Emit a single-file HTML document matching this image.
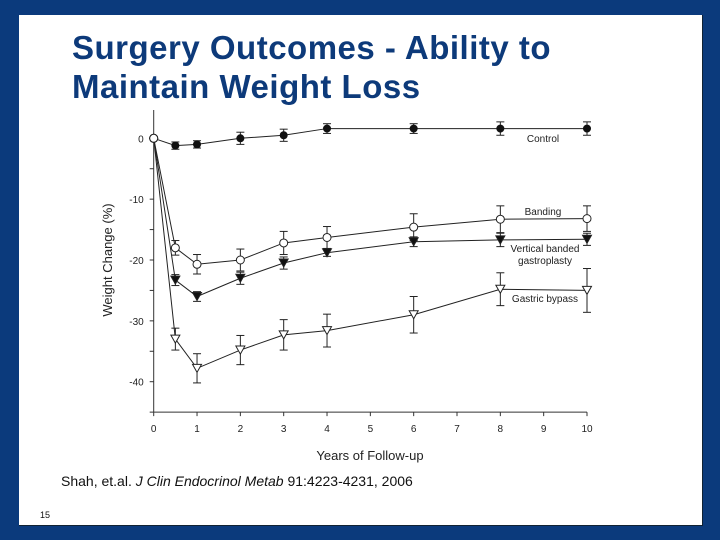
<!DOCTYPE html>
<html><head><meta charset="utf-8"><style>
html,body{margin:0;padding:0}
body{width:720px;height:540px;background:#0b3a7c;position:relative;overflow:hidden;font-family:"Liberation Sans",Arial,sans-serif}
#slide{position:absolute;left:19px;top:15px;width:683px;height:510px;background:#fff;border-right:1px solid #123;border-bottom:1px solid #123}
#title{position:absolute;left:72px;top:28px;font-size:33px;letter-spacing:0.5px;font-weight:bold;color:#0d3a7a;line-height:39px;white-space:nowrap}
#cite{position:absolute;left:61px;top:473px;font-size:14px;color:#111}
#pg{position:absolute;left:40px;top:510px;font-size:9px;color:#111}
svg{position:absolute;left:0;top:0}
</style></head><body>
<div id="slide"></div>
<div id="title">Surgery Outcomes - Ability to<br>Maintain Weight Loss</div>
<div id="cite">Shah, et.al. <i>J Clin Endocrinol Metab</i> 91:4223-4231, 2006</div>
<div id="pg">15</div>
<svg id="chart" width="720" height="540"></svg>
<script>
const years=[0,0.5,1,2,3,4,6,8,10];
const control=[0,-1.2,-1,0,0.5,1.6,1.6,1.6,1.6];
const controlErr=[0,0.6,0.6,1,1,0.8,0.8,1.1,1.1];
const banding=[0,-18,-20.7,-20,-17.2,-16.3,-14.6,-13.3,-13.2];
const bandingErr=[0,1.2,1.6,1.8,1.9,1.8,2.2,2.2,2.1];
const vbg=[0,-23.3,-26,-23,-20.5,-18.8,-17,-16.7,-16.6];
const vbgErr=[0,0.9,0.8,1,1,0.6,0.8,1.1,1];
const bypass=[0,-33,-37.8,-34.8,-32.3,-31.6,-29,-24.8,-25];
const bypassErr=[0,1.8,2.4,2.4,2.5,2.7,3,2.7,3.6];
const xTicks=[0,1,2,3,4,5,6,7,8,9,10];
const yTicks=[0,-10,-20,-30,-40];
const NS='http://www.w3.org/2000/svg';
const svg=document.getElementById('chart');
const X=v=>153.7+v*43.33;
const Y=v=>138.3-v*6.085;
function mk(t,a,p){const e=document.createElementNS(NS,t);for(const k in a)e.setAttribute(k,a[k]);(p||svg).appendChild(e);return e;}
const ax=mk('g',{});


mk('line',{x1:X(0),y1:110,x2:X(0),y2:Y(-45),stroke:'#333','stroke-width':1},ax);
mk('line',{x1:X(0),y1:Y(-45),x2:X(10),y2:Y(-45),stroke:'#333','stroke-width':1},ax);
for(let v=0;v>=-45;v-=5){mk('line',{x1:X(0)-4,y1:Y(v),x2:X(0),y2:Y(v),stroke:'#333'},ax);}
yTicks.forEach(v=>{const t=mk('text',{x:X(0)-10,y:Y(v)+4,'text-anchor':'end','font-size':10,fill:'#222'},ax);t.textContent=v;});
xTicks.forEach(v=>{mk('line',{x1:X(v),y1:Y(-45),x2:X(v),y2:Y(-45)+4,stroke:'#333'},ax);const t=mk('text',{x:X(v),y:Y(-45)+20,'text-anchor':'middle','font-size':10,fill:'#222'},ax);t.textContent=v;});
const xt=mk('text',{x:370,y:460,'text-anchor':'middle','font-size':13,fill:'#222'},ax);xt.textContent='Years of Follow-up';

const yt=mk('text',{x:0,y:0,'text-anchor':'middle','font-size':13,fill:'#222',transform:'translate(112,260) rotate(-90)'},ax);yt.textContent='Weight Change (%)';

function series(name,vals,errs,marker,label,lx,ly){
 const g=mk('g',{});
 
 
 mk('polyline',{points:vals.map((v,i)=>X(years[i])+','+Y(v)).join(' '),fill:'none',stroke:'#222','stroke-width':1},g);
 vals.forEach((v,i)=>{if(!errs[i])return;const x=X(years[i]);
  mk('line',{x1:x,y1:Y(v-errs[i]),x2:x,y2:Y(v+errs[i]),stroke:'#222'},g);
  mk('line',{x1:x-4,y1:Y(v-errs[i]),x2:x+4,y2:Y(v-errs[i]),stroke:'#222'},g);
  mk('line',{x1:x-4,y1:Y(v+errs[i]),x2:x+4,y2:Y(v+errs[i]),stroke:'#222'},g);});
 vals.forEach((v,i)=>{const x=X(years[i]),y=Y(v);let m;
  if(i===0){m=mk('circle',{cx:x,cy:y,r:4,fill:'#fff',stroke:'#222'},g);}
  else if(marker==='fc')m=mk('circle',{cx:x,cy:y,r:4,fill:'#111'},g);
  else if(marker==='oc')m=mk('circle',{cx:x,cy:y,r:4,fill:'#fff',stroke:'#222'},g);
  else m=mk('polygon',{points:`${x-4.5},${y-4} ${x+4.5},${y-4} ${x},${y+4}`,fill:marker==='ft'?'#111':'#fff',stroke:'#222'},g);
  });
 label.forEach((s,k)=>{const t=mk('text',{x:lx,y:ly+k*12,'text-anchor':'middle','font-size':10,fill:'#222'},g);t.textContent=s;});
}
series('control',control,controlErr,'fc',['Control'],543,142);
series('banding',banding,bandingErr,'oc',['Banding'],543,215);
series('vertical-banded-gastroplasty',vbg,vbgErr,'ft',['Vertical banded','gastroplasty'],545,252);
series('gastric-bypass',bypass,bypassErr,'ot',['Gastric bypass'],545,302);
</script>
</body></html>
